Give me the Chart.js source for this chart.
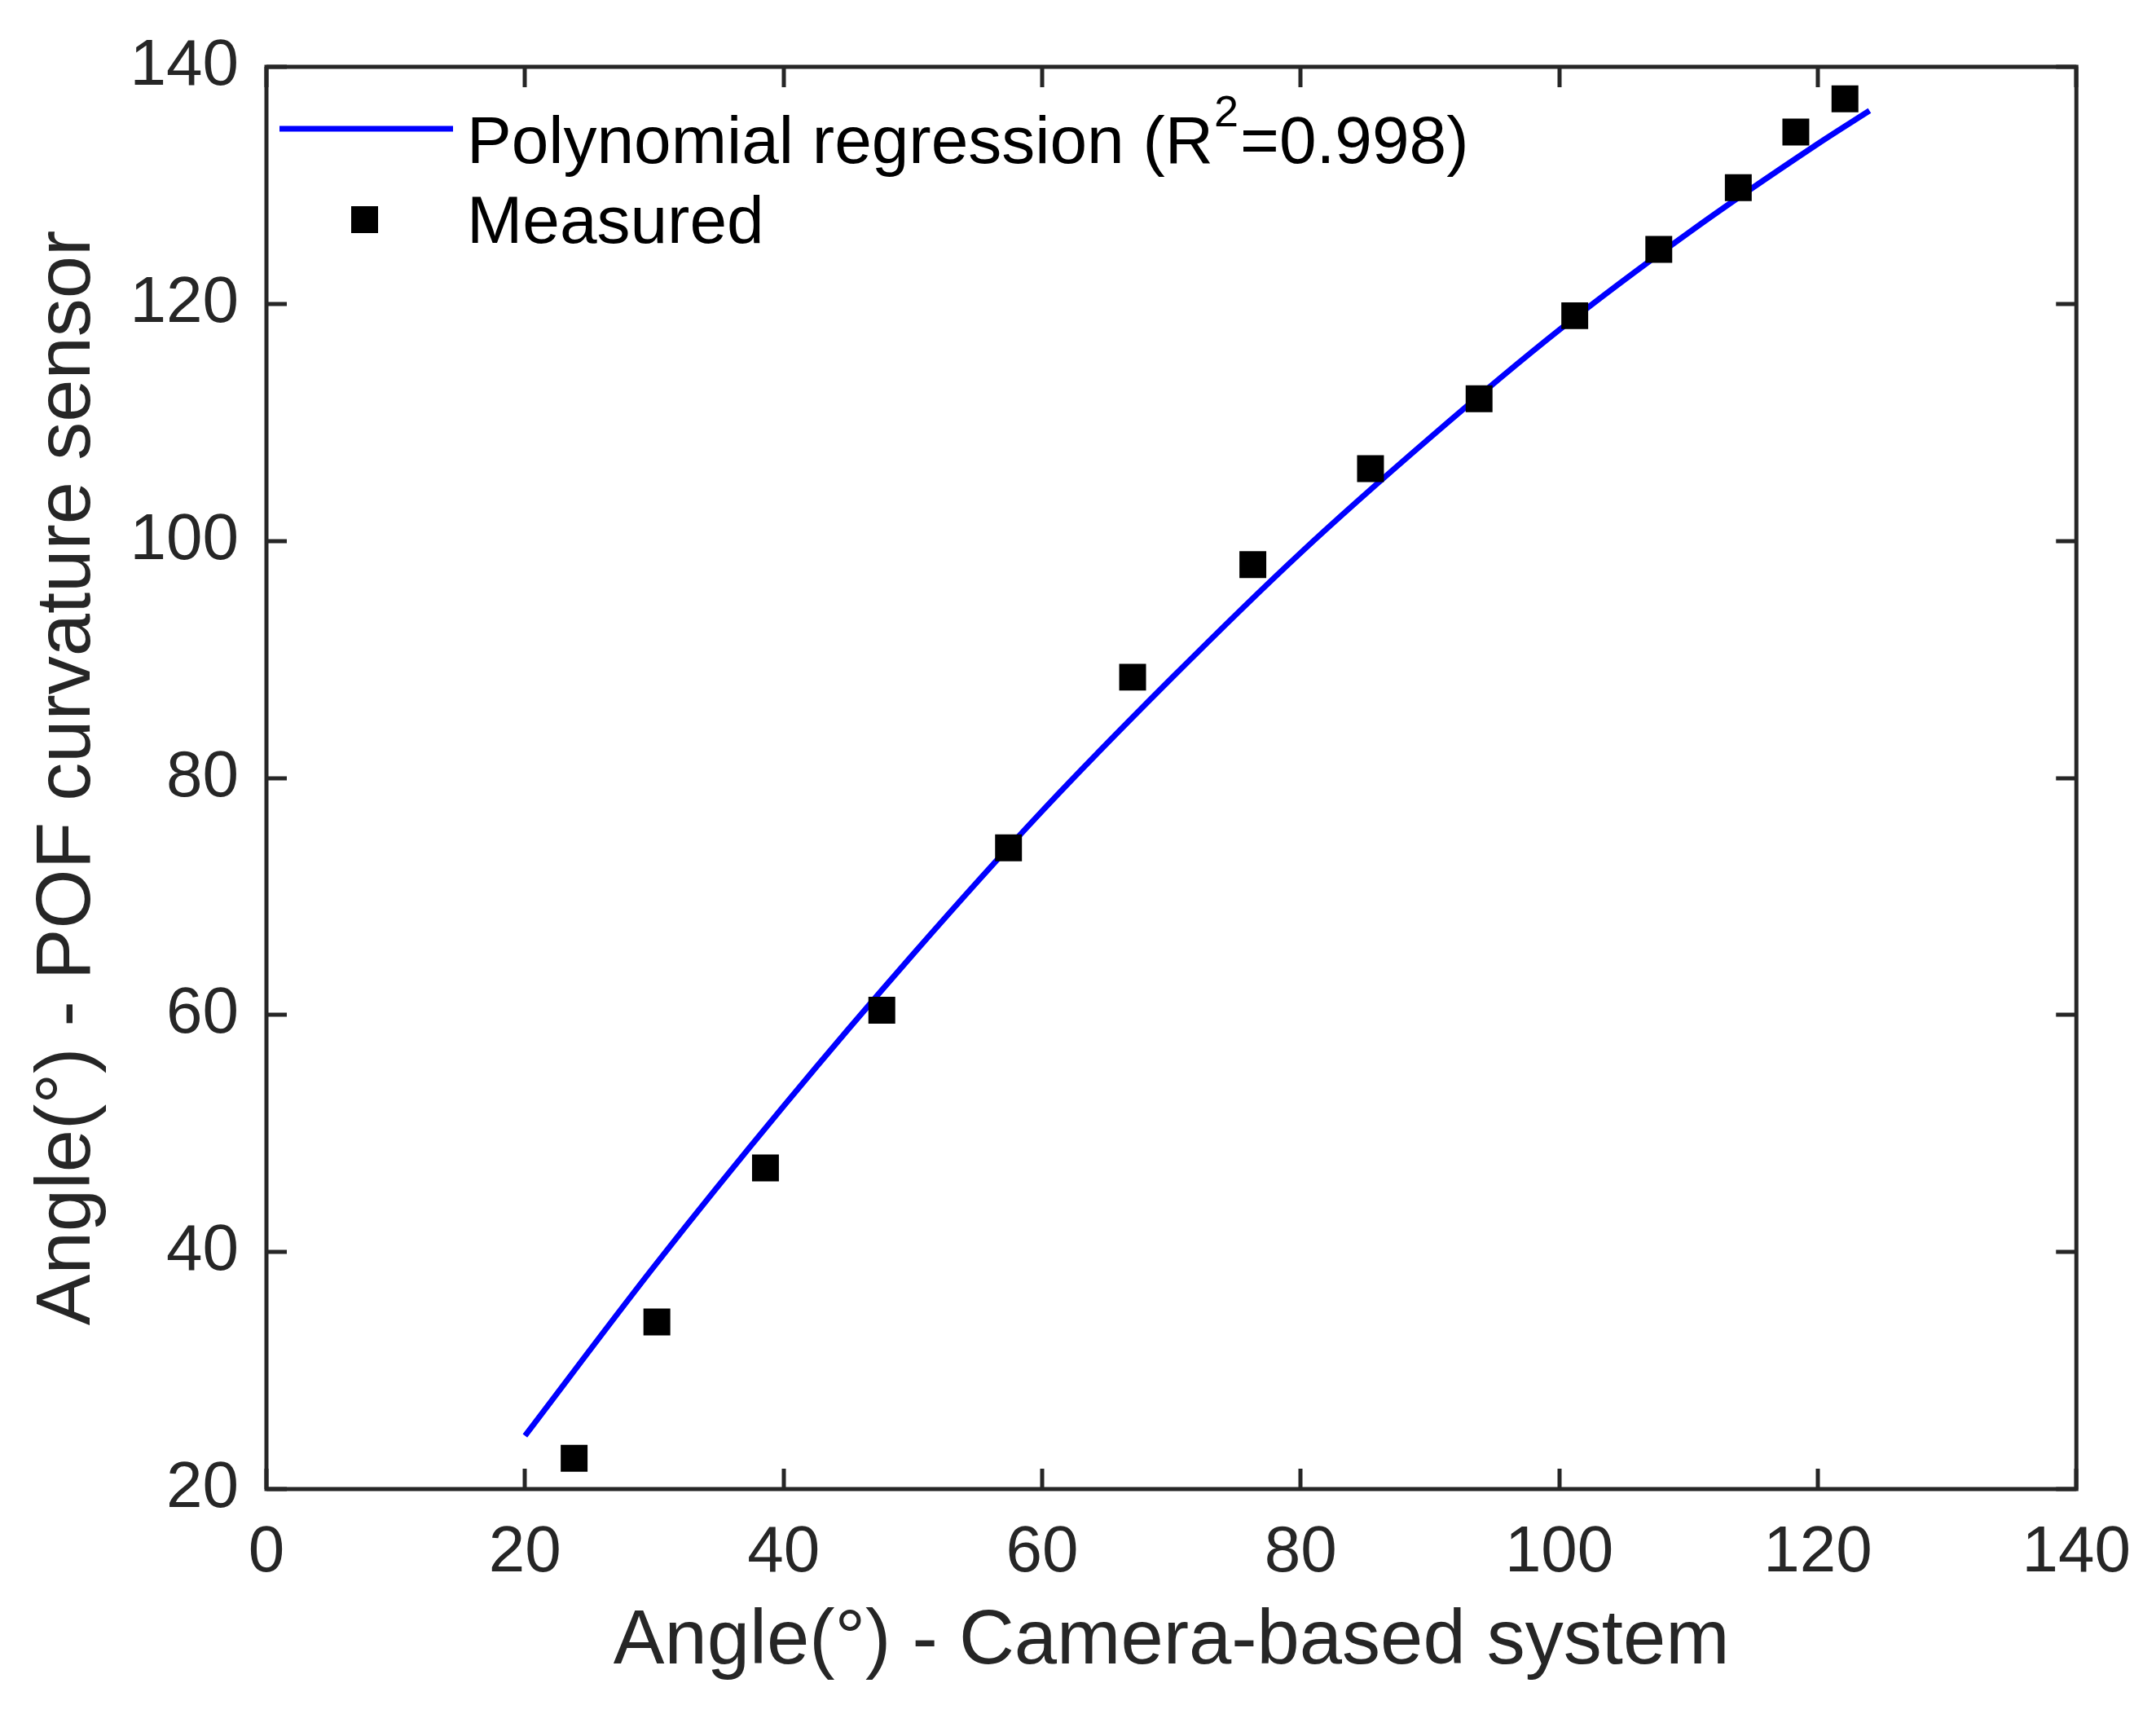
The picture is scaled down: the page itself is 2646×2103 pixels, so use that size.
<!DOCTYPE html>
<html><head><meta charset="utf-8">
<script src="https://cdn.jsdelivr.net/npm/chart.js@4.4.1/dist/chart.umd.min.js"></script>
<style>html,body{margin:0;padding:0;background:#fff;overflow:hidden}canvas{display:block}</style>
</head><body>
<canvas id="c" width="2646" height="2103" style="width:2646px;height:2103px"></canvas>
<script>
// ---- data ----
const measuredX = [23.8, 30.2, 38.6, 47.6, 57.4, 67.0, 76.3, 85.4, 93.8, 101.2, 107.7, 113.85, 118.3, 122.1];
const measuredY = [22.6, 34.1, 47.1, 60.4, 74.1, 88.5, 98.0, 106.1, 112.0, 119.0, 124.6, 129.8, 134.5, 137.3];
const fitX = [20, 30, 40, 50, 60, 70, 80, 90, 100, 110, 120, 124];
const fitY = [24.5, 38.8, 52.3, 65.1, 77.2, 88.4, 99.0, 108.7, 117.8, 126.0, 133.5, 136.3];
const xTickValues = [0, 20, 40, 60, 80, 100, 120, 140];
const yTickValues = [20, 40, 60, 80, 100, 120, 140];
const xTitle = 'Angle(°) - Camera-based system';
const yTitle = 'Angle(°) - POF curvature sensor';
const fitLabel = ['Polynomial regression (R', '2', '=0.998)'];
const measuredLabel = 'Measured';

const AX = '#262626';
const FONT = "'Liberation Sans', Arial, Helvetica, sans-serif";

const framePlugin = {
  id: 'frame',
  afterDraw(chart) {
    const ctx = chart.ctx, a = chart.chartArea;
    const xs = chart.scales.x, ys = chart.scales.y;
    ctx.save();
    ctx.strokeStyle = AX;
    ctx.lineWidth = 5;
    ctx.lineCap = 'butt';
    const tl = 25;
    ctx.beginPath();
    xTickValues.forEach(v => {
      const p = Math.round(xs.getPixelForValue(v));
      ctx.moveTo(p, a.bottom); ctx.lineTo(p, a.bottom - tl);
      ctx.moveTo(p, a.top); ctx.lineTo(p, a.top + tl);
    });
    yTickValues.forEach(v => {
      const p = Math.round(ys.getPixelForValue(v));
      ctx.moveTo(a.left, p); ctx.lineTo(a.left + tl, p);
      ctx.moveTo(a.right, p); ctx.lineTo(a.right - tl, p);
    });
    ctx.stroke();
    ctx.strokeRect(a.left, a.top, a.right - a.left, a.bottom - a.top);

    // legend (inside the axes, top-left)
    const lx0 = a.left + 16, lx1 = a.left + 229, ly1 = a.top + 76;
    ctx.strokeStyle = '#0000ff';
    ctx.lineWidth = 7;
    ctx.beginPath(); ctx.moveTo(lx0, ly1); ctx.lineTo(lx1, ly1); ctx.stroke();
    ctx.fillStyle = '#000';
    const mx = a.left + 120.5, my = a.top + 187.5, ms = 33;
    ctx.fillRect(mx - ms / 2, my - ms / 2, ms, ms);
    const tx = a.left + 246;
    ctx.textAlign = 'left';
    ctx.textBaseline = 'alphabetic';
    ctx.font = '82px ' + FONT;
    ctx.fillText(fitLabel[0], tx, a.top + 118);
    const w = ctx.measureText(fitLabel[0]).width;
    ctx.font = '54px ' + FONT;
    ctx.fillText(fitLabel[1], tx + w + 1, a.top + 73);
    const w2 = ctx.measureText(fitLabel[1]).width;
    ctx.font = '82px ' + FONT;
    ctx.fillText(fitLabel[2], tx + w + w2 + 3, a.top + 118);
    ctx.fillText(measuredLabel, tx, a.top + 216);
    ctx.restore();
  }
};

new Chart(document.getElementById('c'), {
  type: 'scatter',
  data: {
    datasets: [
      {
        label: 'Polynomial regression',
        type: 'line',
        data: fitX.map((x, i) => ({x, y: fitY[i]})),
        borderColor: '#0000ff',
        borderWidth: 7,
        pointRadius: 0,
        cubicInterpolationMode: 'monotone',
        fill: false,
        order: 2
      },
      {
        label: 'Measured',
        data: measuredX.map((x, i) => ({x, y: measuredY[i]})),
        pointStyle: 'rect',
        pointRadius: 23.3,
        backgroundColor: '#000',
        borderWidth: 0,
        order: 1
      }
    ]
  },
  options: {
    responsive: false,
    animation: false,
    devicePixelRatio: 1,
    layout: { padding: { top: 74, right: 95, bottom: 0, left: 0 } },
    plugins: { legend: { display: false }, tooltip: { enabled: false } },
    scales: {
      x: {
        type: 'linear', min: 0, max: 140,
        afterBuildTicks: s => { s.ticks = xTickValues.map(v => ({value: v})); },
        afterFit: s => { s.height = 276; },
        grid: { display: false, drawTicks: false },
        border: { display: false },
        ticks: { color: AX, font: { family: FONT, size: 80 }, padding: 31, maxRotation: 0 },
        title: { display: true, text: xTitle, color: AX, font: { family: FONT, size: 94 }, padding: { top: 0, bottom: 32 } }
      },
      y: {
        type: 'linear', min: 20, max: 140,
        afterBuildTicks: s => { s.ticks = yTickValues.map(v => ({value: v})); },
        afterFit: s => { s.width = 327; },
        grid: { display: false, drawTicks: false },
        border: { display: false },
        ticks: { color: AX, font: { family: FONT, size: 80 }, padding: 34 },
        title: { display: true, text: yTitle, color: AX, font: { family: FONT, size: 94 }, padding: { top: 28, bottom: 0 } }
      }
    }
  },
  plugins: [framePlugin]
});
</script>
</body></html>
